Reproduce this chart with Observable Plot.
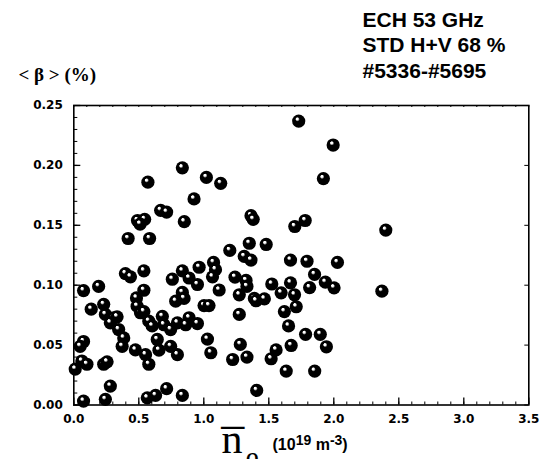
<!DOCTYPE html>
<html><head><meta charset="utf-8">
<script src="https://cdn.jsdelivr.net/npm/d3@7"></script>
<script src="https://cdn.jsdelivr.net/npm/@observablehq/plot@0.6"></script>
<style>body{margin:0;background:#fff}</style>
</head><body><div id="chart"></div>
<script>
// line-averaged density (10^19 m^-3)
const density = [
  0.835,1.02,1.13,0.57,0.925,0.668,0.714,0.49,0.545,0.51,0.85,0.418,0.583,
  1.73,1.995,1.92,1.363,1.38,1.78,1.70,1.20,1.35,1.48,
  2.40,2.37,
  1.075,1.09,0.964,1.067,1.118,0.835,0.887,0.758,0.951,0.835,0.848,0.784,1.002,1.04,
  0.397,0.436,0.539,0.191,0.075,0.539,0.482,0.487,0.134,0.230,0.243,0.307,0.333,0.281,
  0.513,0.539,0.577,0.603,0.681,0.693,0.745,0.797,0.887,0.951,0.861,0.345,0.384,0.372,
  0.474,0.552,0.577,0.642,0.655,0.745,0.797,1.028,1.054,0.075,0.049,0.062,0.101,0.011,
  0.23,0.256,0.281,0.075,0.243,0.565,0.629,0.714,0.835,
  1.311,1.363,1.667,1.794,2.028,1.852,1.24,1.325,1.332,1.273,1.389,1.402,1.466,1.523,
  1.595,1.667,1.698,1.814,1.935,2.002,1.62,1.711,1.273,1.652,1.783,1.896,1.943,1.672,
  1.556,1.518,1.281,1.332,1.222,1.634,1.853,1.407
];
// volume-averaged beta (%)
const beta = [
  0.198,0.19,0.185,0.186,0.172,0.1625,0.161,0.154,0.155,0.151,0.153,0.139,0.139,
  0.237,0.217,0.189,0.158,0.155,0.154,0.149,0.129,0.135,0.134,
  0.146,0.095,
  0.119,0.113,0.115,0.107,0.096,0.112,0.106,0.105,0.1006,0.094,0.089,0.0867,0.083,0.083,
  0.1097,0.107,0.112,0.099,0.0955,0.0958,0.0894,0.0825,0.080,0.084,0.0756,0.0728,0.0736,0.0686,
  0.077,0.078,0.070,0.066,0.074,0.067,0.063,0.0686,0.0728,0.068,0.067,0.063,0.056,0.049,
  0.046,0.042,0.034,0.0547,0.0458,0.049,0.042,0.055,0.0436,0.053,0.049,0.0367,0.034,0.030,
  0.034,0.036,0.0158,0.0033,0.0047,0.006,0.008,0.0136,0.008,
  0.124,0.121,0.121,0.12,0.119,0.109,0.1067,0.104,0.099,0.092,0.089,0.087,0.0886,0.101,
  0.0936,0.102,0.092,0.098,0.1025,0.0978,0.078,0.082,0.0756,0.066,0.059,0.059,0.0486,0.0497,
  0.046,0.0386,0.0506,0.040,0.038,0.0283,0.0283,0.0122
];
const xMajor = [0, 0.5, 1.0, 1.5, 2.0, 2.5, 3.0, 3.5];
const xMinor = d3.range(0, 36).map(i => i / 10);
const yMajor = [0, 0.05, 0.10, 0.15, 0.20, 0.25];
const yMinor = d3.range(0, 26).map(i => i / 100);
const titleLines = ["ECH 53 GHz", "STD H+V 68 %", "#5336-#5695"];
const yLabel = "< β > (%)";
const xLabelMain = "n";
const xLabelSub = "e";
const xUnitPlaceholder = "(1019 m-3)";

const pts = density.map((x, i) => ({x, y: beta[i]}));

const W = 543, H = 459;
const mL = 73.3, mR = 14.7, mT = 105, mB = 54.5;
const pW = W - mL - mR, pH = H - mT - mB;

const label = (txt, px, py, opts) => Plot.text([txt], {
  text: d => d, frameAnchor: "top-left", dx: px - mL, dy: py - mT,
  textAnchor: "start", lineAnchor: "bottom", fill: "black", ...opts
});

const sans = "Liberation Sans, Arial, sans-serif";
const serif = "Liberation Serif, Times New Roman, serif";

const svg = Plot.plot({
  width: W, height: H,
  marginLeft: mL, marginRight: mR, marginTop: mT, marginBottom: mB,
  style: {fontFamily: sans, background: "white", color: "black"},
  x: {domain: [0, 3.5]},
  y: {domain: [0, 0.25]},
  marks: [
    // inward ticks
    Plot.tickY(yMinor, {y: d => d, insetRight: pW - 4, stroke: "black"}),
    Plot.tickY(yMajor, {y: d => d, insetRight: pW - 7, stroke: "black", strokeWidth: 1.3}),
    Plot.tickY(yMajor, {y: d => d, insetLeft: pW - 4, stroke: "black"}),
    Plot.tickX(xMinor, {x: d => d, insetTop: pH - 3, stroke: "black"}),
    Plot.tickX(xMajor, {x: d => d, insetTop: pH - 7, stroke: "black", strokeWidth: 1.3}),
    Plot.tickX(xMinor, {x: d => d, insetBottom: pH - 2, stroke: "black"}),
    Plot.frame({stroke: "black", strokeWidth: 1.6}),
    Plot.axisX({ticks: xMajor, tickSize: 0, tickPadding: 9, tickFormat: d3.format(".1f"),
      fontSize: 12, fontWeight: "bold", fontFamily: "DejaVu Sans", label: null}),
    Plot.axisY({ticks: yMajor, tickSize: 0, tickPadding: 11, tickFormat: d3.format(".2f"),
      fontSize: 12, fontWeight: "bold", fontFamily: "DejaVu Sans", label: null}),
    Plot.dot(pts, {x: "x", y: "y", r: 6.6, fill: "url(#ball)", stroke: null}),
    // titles and labels
    ...titleLines.map((t, i) => label(t, 362, 26.5 + i * 25.3,
      {fontSize: 21, fontWeight: "bold", fontFamily: sans})),
    label(yLabel, 18, 80, {fontSize: 19, fontWeight: "bold", fontFamily: serif}),
    label(xLabelMain, 221, 452, {fontSize: 42, fontFamily: serif}),
    label("_", 220.7, 422, {fontSize: 46, fontFamily: serif}),
    label(xLabelSub, 245, 466, {fontSize: 30, fontFamily: serif}),
    label(xUnitPlaceholder, 272, 449, {fontSize: 16, fontWeight: "bold", fontFamily: sans})
  ]
});

// ball shading
const defs = d3.select(svg).insert("defs", ":first-child");
const g = defs.append("radialGradient").attr("id", "ball")
  .attr("cx", 0.5).attr("cy", 0.5).attr("r", 0.5).attr("fx", 0.36).attr("fy", 0.3);
g.append("stop").attr("offset", "0%").attr("stop-color", "#fff");
g.append("stop").attr("offset", "16%").attr("stop-color", "#fff");
g.append("stop").attr("offset", "34%").attr("stop-color", "#000");
g.append("stop").attr("offset", "100%").attr("stop-color", "#000");

// superscripts in the unit label
d3.select(svg).selectAll("text").each(function() {
  if (this.textContent === xUnitPlaceholder) {
    const t = d3.select(this).text(null);
    t.append("tspan").text("(10");
    t.append("tspan").attr("dy", "-5").attr("font-size", 14).text("19");
    t.append("tspan").attr("dy", "5").text(" m");
    t.append("tspan").attr("dy", "-5").attr("font-size", 14).text("-3");
    t.append("tspan").attr("dy", "5").text(")");
  }
});

document.getElementById("chart").appendChild(svg);
</script>
</body></html>
